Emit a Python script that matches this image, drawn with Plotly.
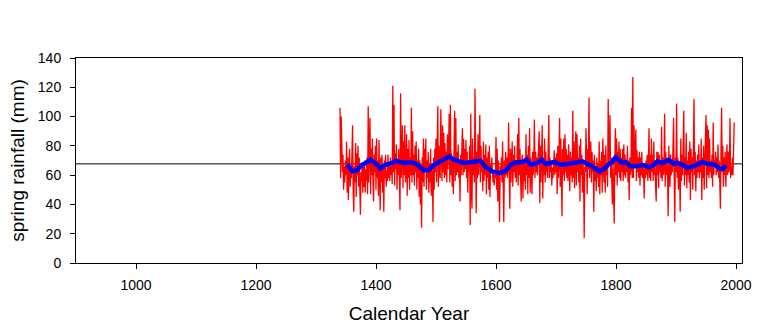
import plotly.graph_objects as go

start_year = 1340
rainfall = [
    106, 58, 100, 72, 62, 74, 50, 66, 55, 70,   # 1340
    60, 83, 48, 72, 43, 66, 78, 52, 64, 58,
    70, 94, 48, 35, 66, 55, 82, 45, 75, 60,
    80, 52, 72, 46, 33, 62, 56, 67, 48, 66,
    52, 70, 48, 64, 56, 72, 47, 107, 55, 82,
    99, 47, 78, 60, 85, 55, 42, 74, 62, 80,
    50, 85, 58, 70, 46, 84, 60, 36, 72, 55,     # 1400
    74, 48, 66, 35, 70, 58, 74, 52, 63, 56,
    74, 58, 68, 56, 72, 60, 66, 54, 121, 62,
    108, 53, 75, 64, 81, 50, 70, 60, 78, 52,
    36, 116, 58, 72, 94, 51, 83, 60, 94, 55,
    62, 88, 46, 78, 58, 84, 50, 72, 60, 106,
    55, 90, 60, 74, 53, 80, 62, 83, 50, 70,
    58, 78, 45, 70, 40, 66, 24, 72, 55, 85,
    52, 78, 62, 85, 50, 70, 58, 76, 48, 68,
    55, 78, 46, 66, 60, 28, 72, 50, 78, 62,
    85, 55, 74, 107, 52, 80, 62, 58, 105, 70,   # 1500
    56, 94, 62, 89, 58, 82, 60, 76, 55, 88,
    64, 80, 102, 55, 108, 60, 75, 52, 70, 47,
    72, 104, 56, 99, 60, 76, 62, 81, 58, 70,
    42, 74, 60, 70, 92, 60, 85, 62, 78, 64,
    84, 58, 76, 48, 70, 62, 80, 26, 102, 50,
    37, 85, 60, 72, 55, 119, 62, 34, 76, 58,
    88, 60, 72, 101, 55, 80, 62, 70, 49, 83,
    56, 74, 60, 81, 47, 72, 58, 76, 50, 80,
    45, 68, 62, 72, 64, 55, 62, 53, 60, 58,
    86, 50, 78, 42, 70, 56, 28, 66, 60, 72,     # 1600
    55, 83, 62, 28, 70, 58, 76, 60, 72, 58,
    66, 96, 60, 37, 78, 55, 70, 83, 52, 74,
    62, 80, 58, 70, 55, 66, 88, 53, 99, 60,
    78, 58, 42, 70, 74, 44, 68, 56, 72, 50,
    88, 60, 74, 47, 80, 58, 92, 48, 72, 62,
    47, 76, 60, 70, 98, 58, 76, 62, 72, 60,
    68, 76, 90, 41, 80, 55, 70, 94, 44, 72,
    60, 85, 55, 76, 62, 70, 58, 80, 101, 58,
    72, 62, 67, 53, 65, 58, 66, 77, 60, 72,
    62, 75, 47, 80, 58, 70, 99, 52, 85, 60,     # 1700
    32, 78, 60, 85, 56, 88, 62, 78, 58, 74,
    56, 81, 62, 49, 76, 60, 72, 55, 104, 58,
    83, 51, 70, 90, 53, 88, 62, 72, 55, 80,
    42, 85, 60, 74, 48, 70, 58, 17, 66, 62,
    92, 60, 47, 78, 64, 113, 58, 70, 83, 55,
    76, 62, 70, 35, 74, 56, 66, 49, 72, 58,
    68, 52, 83, 47, 70, 60, 76, 48, 85, 62,
    55, 74, 48, 80, 60, 66, 52, 112, 67, 78,
    101, 58, 72, 62, 40, 70, 55, 27, 68, 92,
    60, 85, 53, 76, 62, 83, 58, 78, 56, 72,     # 1800
    62, 78, 56, 81, 60, 74, 58, 70, 62, 80,
    55, 70, 43, 72, 60, 66, 106, 58, 127, 58,
    94, 65, 76, 91, 56, 77, 62, 72, 58, 76,
    53, 72, 60, 76, 58, 67, 62, 44, 66, 58,
    70, 60, 74, 56, 66, 92, 58, 74, 56, 85,
    62, 74, 56, 83, 60, 70, 52, 42, 76, 60,
    76, 51, 74, 62, 70, 58, 93, 56, 72, 60,
    66, 102, 52, 76, 60, 72, 58, 32, 80, 62,
    52, 74, 60, 70, 62, 80, 99, 58, 28, 72,
    62, 109, 58, 72, 50, 70, 62, 35, 85, 56,    # 1900
    74, 60, 78, 104, 53, 72, 60, 89, 51, 70,
    60, 76, 55, 83, 43, 78, 62, 72, 50, 80,
    112, 60, 76, 49, 70, 58, 74, 62, 81, 58,
    70, 62, 85, 43, 72, 58, 80, 50, 66, 94,
    101, 51, 94, 60, 91, 58, 85, 62, 70, 58,
    74, 52, 96, 60, 70, 66, 76, 60, 72, 62,
    81, 58, 70, 55, 37, 76, 106, 62, 80, 52,
    72, 60, 76, 52, 70, 81, 60, 76, 62, 66,
    99, 58, 66, 60, 72, 60, 78, 96,
]
years = [start_year + i for i in range(len(rainfall))]

smooth_years = [1352, 1361, 1369, 1377, 1383, 1391, 1402, 1407, 1416, 1427,
                1433, 1447, 1458, 1469, 1480, 1488, 1497, 1505, 1516, 1522,
                1530, 1547, 1561, 1574, 1583, 1594, 1605, 1616, 1625, 1632,
                1644, 1651, 1658, 1669, 1676, 1683, 1697, 1708, 1719, 1732,
                1744, 1755, 1761, 1772, 1780, 1787, 1794, 1799, 1805, 1811,
                1816, 1824, 1833, 1844, 1855, 1863, 1869, 1877, 1888, 1897,
                1902, 1911, 1919, 1931, 1940, 1945, 1953, 1965, 1973, 1978,
                1983]
smooth_vals = [67.1, 62.6, 63.7, 67.1, 68.3, 70.5, 67.1, 64.4, 67.1, 68.3,
               69.9, 68.3, 69.0, 67.1, 63.3, 63.7, 67.1, 69.0, 71.7, 72.8,
               70.5, 68.3, 69.0, 69.9, 65.5, 62.6, 61.4, 63.0, 67.1, 68.7,
               69.0, 70.5, 67.1, 68.3, 70.5, 67.6, 69.0, 67.1, 67.6, 68.7,
               69.4, 67.1, 66.0, 62.6, 64.2, 67.1, 69.4, 72.1, 70.5, 68.3,
               69.0, 66.0, 66.0, 67.1, 65.3, 67.1, 69.4, 68.3, 70.5, 67.6,
               68.3, 67.1, 64.9, 66.3, 68.3, 69.0, 67.6, 67.1, 64.4, 64.4,
               66.7]

mean_level = 67.7
x_range = [900, 2010]
y_ticks = [0, 20, 40, 60, 80, 100, 120, 140]
x_ticks = [1000, 1200, 1400, 1600, 1800, 2000]

fig = go.Figure()
fig.add_trace(go.Scatter(x=x_range, y=[mean_level, mean_level], mode="lines",
                         line=dict(color="black", width=1), hoverinfo="skip"))
fig.add_trace(go.Scatter(x=years, y=rainfall, mode="lines",
                         line=dict(color="#FF0000", width=1.3)))
fig.add_trace(go.Scatter(x=smooth_years, y=smooth_vals, mode="lines",
                         line=dict(color="#0000FF", width=4.5)))

fam = "Liberation Sans, Arial, sans-serif"
tick_font = dict(family=fam, size=14, color="black")
title_font = dict(family=fam, size=19, color="black")
fig.update_layout(
    width=772, height=331,
    margin=dict(l=76, r=30, t=58, b=68),
    paper_bgcolor="white", plot_bgcolor="white",
    showlegend=False,
    font=tick_font,
)
fig.update_xaxes(range=x_range, tickvals=x_ticks, ticks="outside", ticklen=5,
                 tickcolor="black", showline=True, linecolor="black", linewidth=1,
                 mirror=True, showgrid=False, zeroline=False,
                 tickfont=tick_font, ticklabelstandoff=4,
                 title=dict(text="Calendar Year", standoff=14, font=title_font))
fig.update_yaxes(range=[0, 140], tickvals=y_ticks, ticks="outside", ticklen=5,
                 tickcolor="black", showline=True, linecolor="black", linewidth=1,
                 mirror=True, showgrid=False, zeroline=False,
                 tickfont=tick_font, ticklabelstandoff=6,
                 title=dict(text="spring rainfall (mm)", standoff=8, font=title_font))

fig.write_html("out.html")
